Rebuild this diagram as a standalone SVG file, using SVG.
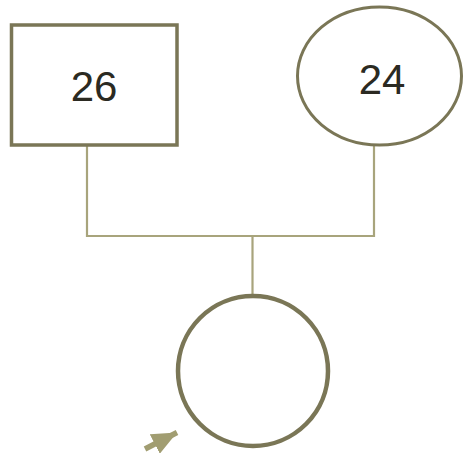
<svg xmlns="http://www.w3.org/2000/svg" width="463" height="456" viewBox="0 0 463 456">
<style>
.node{fill:#ffffff;stroke:#7a7656}
.lbl{font-family:"Liberation Sans",Arial,sans-serif;font-size:42px;fill:#2b2a22;text-anchor:middle}
.conn{fill:none;stroke:#a8a47c;stroke-width:2.2}
</style>
<defs>
<marker id="ah" markerUnits="userSpaceOnUse" markerWidth="26" markerHeight="22" refX="25" refY="11" orient="auto">
<path d="M0,0 L25,11 L0,22 z" fill="#a19d71"/>
</marker>
</defs>
<g id="connectors">
<path class="conn" d="M87,146 V236 H374 V146"/>
<path class="conn" d="M252.5,236 V297"/>
<line x1="145" y1="449" x2="177" y2="432.5" stroke="#a19d71" stroke-width="5.5" marker-end="url(#ah)"/>
</g>
<g id="father">
<rect class="node" x="11.5" y="25" width="165.5" height="120" stroke-width="3.5"/>
<text class="lbl" x="94" y="101">26</text>
</g>
<g id="mother">
<ellipse class="node" cx="379.5" cy="76" rx="82" ry="69" stroke-width="3"/>
<text class="lbl" x="382" y="94">24</text>
</g>
<g id="child">
<circle class="node" cx="253" cy="371" r="75" stroke-width="4.5"/>
</g>
</svg>
